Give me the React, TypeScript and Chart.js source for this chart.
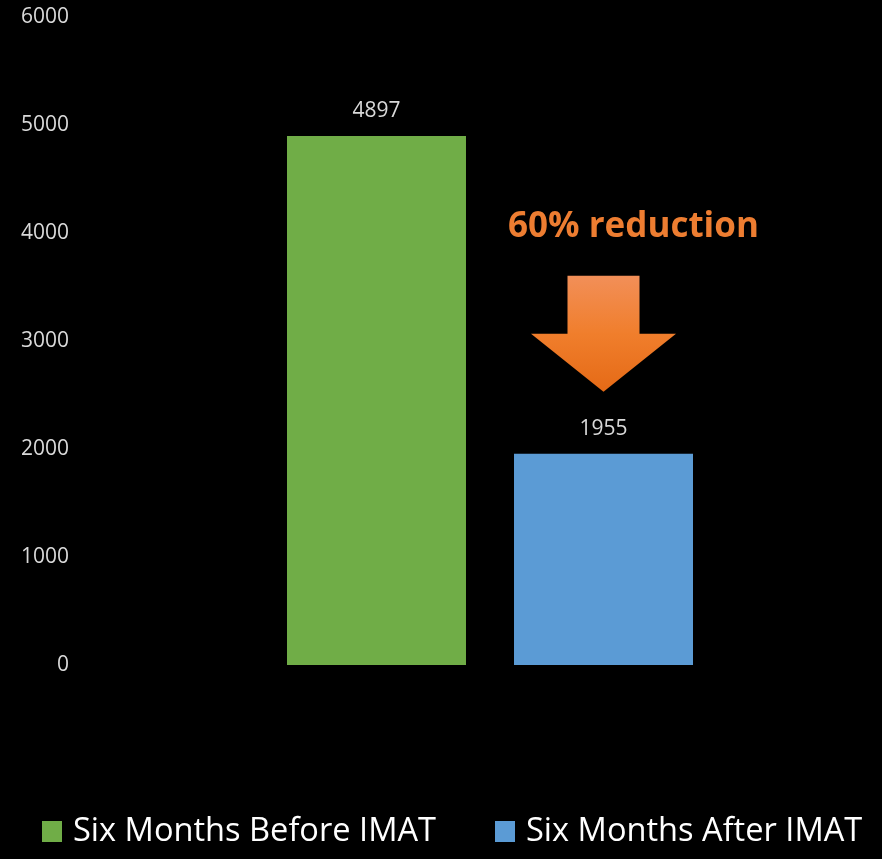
import React, { useEffect, useRef } from "react";
import { Chart, registerables } from "chart.js";

Chart.register(...registerables);

const categories = [""];
const seriesNames = ["Six Months Before IMAT", "Six Months After IMAT"];
const beforeValues = [4897];
const afterValues = [1955];
const seriesColors = ["#70AD47", "#5B9BD5"];
const yTicks = [0, 1000, 2000, 3000, 4000, 5000, 6000];
const annotationText = "60% reduction";

const FONT = "'Open Sans', 'DejaVu Sans', sans-serif";

const valueLabelsPlugin = {
  id: "valueLabels",
  afterDatasetsDraw(chart: any) {
    const ctx = chart.ctx;
    ctx.save();
    ctx.font = `21px ${FONT}`;
    ctx.fillStyle = "#D9D9D9";
    ctx.textAlign = "center";
    ctx.textBaseline = "middle";
    chart.data.datasets.forEach((ds: any, i: number) => {
      const meta = chart.getDatasetMeta(i);
      meta.data.forEach((el: any, j: number) => {
        ctx.fillText(String(ds.data[j]), el.x, el.y - 25);
      });
    });
    ctx.restore();
  },
};

const arrowPlugin = {
  id: "reductionArrow",
  afterDatasetsDraw(chart: any) {
    const ctx = chart.ctx;
    const meta = chart.getDatasetMeta(1);
    const el = meta.data[0];
    if (!el) return;
    const cx = el.x;
    const tipY = el.y - 62;
    const headY = tipY - 58;
    const topY = tipY - 116;
    const headHalf = 72.5;
    const shaftHalf = 36;
    ctx.save();
    const grad = ctx.createLinearGradient(0, topY, 0, tipY);
    grad.addColorStop(0, "#F28F58");
    grad.addColorStop(0.5, "#F07E2C");
    grad.addColorStop(1, "#E56A16");
    ctx.fillStyle = grad;
    ctx.beginPath();
    ctx.moveTo(cx - shaftHalf, topY);
    ctx.lineTo(cx + shaftHalf, topY);
    ctx.lineTo(cx + shaftHalf, headY);
    ctx.lineTo(cx + headHalf, headY);
    ctx.lineTo(cx, tipY);
    ctx.lineTo(cx - headHalf, headY);
    ctx.lineTo(cx - shaftHalf, headY);
    ctx.closePath();
    ctx.fill();

    ctx.font = `bold 35px ${FONT}`;
    ctx.fillStyle = "#ED7D31";
    ctx.textAlign = "center";
    ctx.textBaseline = "alphabetic";
    ctx.fillText(annotationText, cx + 30, tipY - 155);
    ctx.restore();
  },
};

const legendPlugin = {
  id: "bottomLegend",
  afterDraw(chart: any) {
    const ctx = chart.ctx;
    const positions = [42, 495];
    ctx.save();
    ctx.font = `32.6px ${FONT}`;
    ctx.textAlign = "left";
    ctx.textBaseline = "alphabetic";
    chart.data.datasets.forEach((ds: any, i: number) => {
      const x = positions[i];
      ctx.fillStyle = ds.backgroundColor;
      ctx.fillRect(x, 821, 20, 21);
      ctx.fillStyle = "#FFFFFF";
      ctx.fillText(ds.label, x + 31, 841);
    });
    ctx.restore();
  },
};

export default function App() {
  const canvasRef = useRef<HTMLCanvasElement | null>(null);

  useEffect(() => {
    document.body.style.margin = "0";
    document.body.style.background = "#000000";
    const canvas = canvasRef.current;
    if (!canvas) return;
    const chart = new Chart(canvas, {
      type: "bar",
      data: {
        labels: categories,
        datasets: [
          {
            label: seriesNames[0],
            data: beforeValues,
            backgroundColor: seriesColors[0],
            categoryPercentage: 0.5791,
            barPercentage: 0.7885,
          },
          {
            label: seriesNames[1],
            data: afterValues,
            backgroundColor: seriesColors[1],
            categoryPercentage: 0.5791,
            barPercentage: 0.7885,
          },
        ],
      },
      options: {
        animation: false,
        responsive: false,
        maintainAspectRatio: false,
        layout: { padding: { top: 17, left: 0, right: 0, bottom: 0 } },
        plugins: {
          legend: { display: false },
          tooltip: { enabled: false },
        },
        scales: {
          x: {
            display: true,
            grid: { display: false, drawTicks: false },
            border: { display: false },
            ticks: { display: false },
            afterFit: (scale: any) => {
              scale.height = 194;
            },
          },
          y: {
            min: 0,
            max: 6000,
            grid: { display: false, drawTicks: false },
            border: { display: false },
            afterFit: (scale: any) => {
              scale.width = 98;
              scale.paddingTop = 0;
              scale.paddingBottom = 0;
            },
            afterBuildTicks: (scale: any) => {
              scale.ticks = yTicks.map((v) => ({ value: v }));
            },
            ticks: {
              padding: 29,
              color: "#D9D9D9",
              font: { family: FONT, size: 21 },
              callback: (value: any) => String(value),
            },
          },
        },
      },
      plugins: [valueLabelsPlugin, arrowPlugin, legendPlugin],
    });
    return () => chart.destroy();
  }, []);

  return (
    <div style={{ width: 882, height: 859, background: "#000000" }}>
      <canvas ref={canvasRef} width={882} height={859} style={{ display: "block" }} />
    </div>
  );
}
